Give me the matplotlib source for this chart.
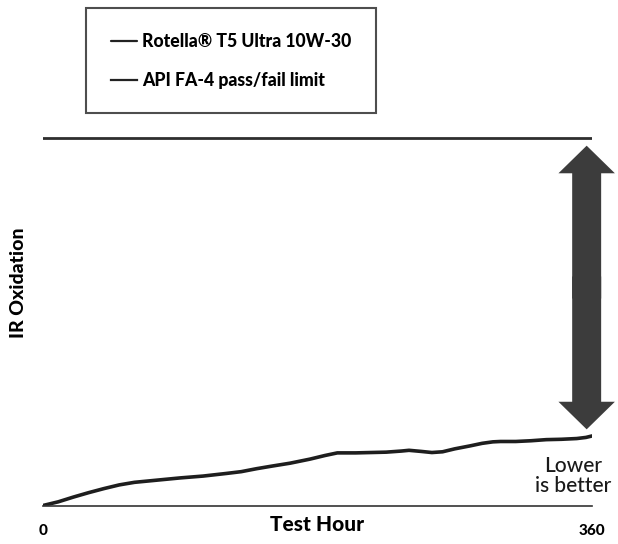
import matplotlib
matplotlib.use("Agg")
import matplotlib.pyplot as plt
from matplotlib.patches import FancyArrow

# data (limit = 100 units)
hours = [0, 10, 20, 30, 40, 50, 60, 75, 90, 105, 120, 130, 140, 150, 162, 175,
         185, 193, 205, 215, 225, 235, 240, 248, 255, 262, 270, 280, 288, 295,
         300, 310, 320, 330, 340, 350, 356, 360]
oxidation = [0, 1.0, 2.3, 3.5, 4.6, 5.6, 6.3, 6.9, 7.5, 8.0, 8.7, 9.2, 10.0, 10.7,
             11.5, 12.6, 13.6, 14.3, 14.3, 14.4, 14.5, 14.8, 15.0, 14.7, 14.4,
             14.6, 15.4, 16.2, 16.9, 17.3, 17.4, 17.4, 17.6, 17.9, 18.0, 18.2,
             18.5, 18.9]
limit_hours = [0, 360]
limit_value = [100, 100]
series_labels = ["Rotella\u00ae T5 Ultra 10W-30", "API FA-4 pass/fail limit"]
x_ticks = [0, 360]
x_tick_labels = ["0", "360"]

FONT = "Lato"
W, H = 618, 544

fig = plt.figure(figsize=(W / 100, H / 100), dpi=100)
ax = fig.add_axes([43 / W, 38.5 / H, 549 / W, 505.5 / H])

curve, = ax.plot(hours, oxidation, color="#1e1e1e", lw=2.6, solid_capstyle="round",
                 label=series_labels[0])
lim_line, = ax.plot(limit_hours, limit_value, color="#2e2e2e", lw=2.0,
                    label=series_labels[1])

ax.set_xlim(0, 360)
ax.set_ylim(0, 137.4)

for s in ["top", "right", "left"]:
    ax.spines[s].set_visible(False)
ax.spines["bottom"].set_linewidth(1.2)
ax.spines["bottom"].set_color("#333333")
ax.set_yticks([])
ax.set_xticks(x_ticks)
ax.set_xticklabels(x_tick_labels, fontfamily=FONT, fontweight="black", fontsize=11)
ax.tick_params(axis="x", length=0, pad=13)

ax.set_xlabel("Test Hour", fontfamily=FONT, fontweight="black", fontsize=15, va="center")
ax.xaxis.set_label_coords(0.5, -0.037)
ax.set_ylabel("IR Oxidation", fontfamily=FONT, fontweight="black", fontsize=14, va="center")
ax.yaxis.set_label_coords(-0.045, 0.44)

# double headed arrow between the curve end and the limit
x_arrow = 356.5
top = limit_value[-1] - 2.2
bottom = oxidation[-1] + 1.8
mid = (top + bottom) / 2
for start, end in ((mid - 3, top), (mid + 3, bottom)):
    ax.add_patch(FancyArrow(x_arrow, start, 0, end - start, width=19, head_width=37,
                            head_length=7.5, length_includes_head=True,
                            color="#3c3c3c", lw=0, clip_on=False))

ax.text(347.5, 8.0, "Lower\nis better", ha="center", va="center", fontfamily=FONT,
        fontweight="medium", fontsize=15, color="#1a1a1a", linespacing=1.05,
        clip_on=False)

leg = fig.legend(handles=[curve, lim_line], labels=series_labels, loc="upper left",
                 bbox_to_anchor=(86 / W, 1 - 8 / H), frameon=True, fancybox=False,
                 handlelength=1.5, handletextpad=0.3, borderpad=1.4,
                 labelspacing=1.25, borderaxespad=0,
                 prop={"family": FONT, "weight": "black", "size": 12.7})
leg.get_frame().set_edgecolor("#222222")
leg.get_frame().set_linewidth(1.5)
for h in leg.legend_handles:
    h.set_linewidth(1.6)
    h.set_color("#222222")

fig.savefig("out.png", dpi=100)
